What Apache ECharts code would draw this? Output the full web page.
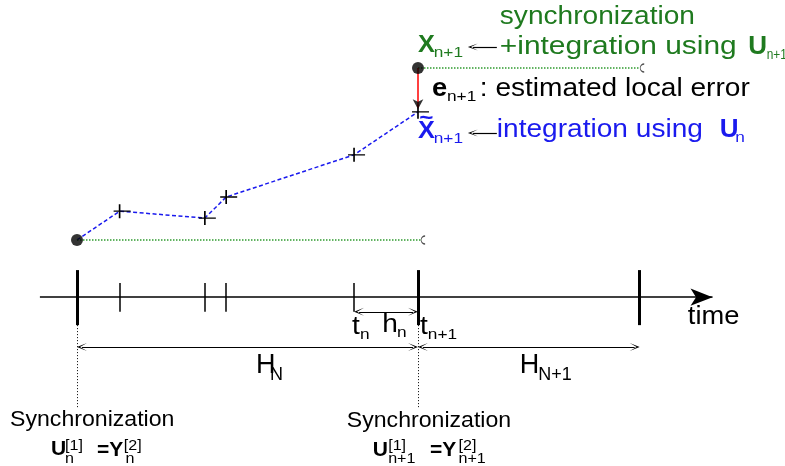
<!DOCTYPE html>
<html><head><meta charset="utf-8">
<script src="https://cdn.jsdelivr.net/npm/echarts@6/dist/echarts.min.js"></script>
<style>html,body{margin:0;padding:0;background:#fff}#c{width:785px;height:466px}</style>
</head><body><div id="c"></div>
<script>
// ---------------- data ----------------
const syncTimes = [0, 8, 13.2];                  // synchronization instants T_N, T_N+1, T_N+2
const stepTimes = [1, 3, 3.5, 6.5];              // internal integration steps
const pathTimes = [0, 1, 3, 3.5, 6.5, 8];        // integration using U_n
const pathValues = [0, 0.67, 0.51, 1.0, 1.98, 2.98];
const syncStateTimes = [0, 8];                   // X_n, X_{n+1}
const syncStateValues = [0, 4.0];
const holdEnds = [8.06, 13.2];                   // end of constant-input horizons

// timeline levels (value units)
const AXIS_Y = -1.33, AXIS_X0 = -0.87, AXIS_X1 = 14.91;
const BIG_TOP = -0.70, BIG_BOT = -1.98, SMALL_TOP = -1.0, SMALL_BOT = -1.67;
const HN_Y = -1.67, H_Y = -2.49, DOT_BOT = -3.9;

const XMIN = -1.806, XMAX = 16.61, YMIN = -5.256, YMAX = 5.581;
const GREEN = '#1f7a1f', BLUE = '#1a1aee', LGREEN = '#2e9a2e';
const FONT = '"Liberation Sans", Arial, sans-serif';

// labels: [x, y, text, font, color, scaleX]
const M = '26px ' + FONT, S = '15px ' + FONT;
const labels = [
  [9.92, 5.19, 'synchronization', M, GREEN, 1.08],
  [8.0, 4.51, 'X', 'bold 23px ' + FONT, GREEN, 1.1],
  [8.37, 4.35, 'n+1', S, GREEN, 1.15],
  [9.92, 4.49, '+integration using', M, GREEN, 1.15],
  [15.75, 4.49, 'U', 'bold 26px ' + FONT, GREEN, 1.0],
  [16.18, 4.30, 'n+1', '14px ' + FONT, GREEN, 0.85],
  [8.33, 3.51, 'e', 'bold 26px ' + FONT, '#000', 1.05],
  [8.68, 3.33, 'n+1', S, '#000', 1.15],
  [9.45, 3.51, ': estimated local error', M, '#000', 1.08],
  [8.03, 2.81, '~', 'bold 22px ' + FONT, BLUE, 1.1],
  [8.0, 2.53, 'X', 'bold 23px ' + FONT, BLUE, 1.1],
  [8.37, 2.35, 'n+1', S, BLUE, 1.15],
  [9.85, 2.56, 'integration using', M, BLUE, 1.08],
  [15.08, 2.56, 'U', 'bold 26px ' + FONT, BLUE, 1.0],
  [15.44, 2.37, 'n', S, BLUE, 1.15],
  [6.45, -2.02, 't', M, '#000', 1.08],
  [6.64, -2.21, 'n', S, '#000', 1.15],
  [7.16, -1.98, 'h', M, '#000', 1.08],
  [7.51, -2.16, 'n', S, '#000', 1.15],
  [8.05, -2.02, 't', M, '#000', 1.08],
  [8.23, -2.21, 'n+1', S, '#000', 1.15],
  [14.33, -1.79, 'time', M, '#000', 1.05],
  [4.2, -2.91, 'H', '27px ' + FONT, '#000', 1.0],
  [4.53, -3.14, 'N', '18px ' + FONT, '#000', 1.0],
  [10.39, -2.93, 'H', '27px ' + FONT, '#000', 1.0],
  [10.82, -3.14, 'N+1', '18px ' + FONT, '#000', 1.0],
  [-1.57, -4.19, 'Synchronization', '22px ' + FONT, '#000', 1.05],
  [6.33, -4.21, 'Synchronization', '22px ' + FONT, '#000', 1.05],
  [-0.61, -4.86, 'U', 'bold 21px ' + FONT, '#000', 1.0],
  [-0.28, -4.80, '[1]', '14px ' + FONT, '#000', 1.15],
  [-0.28, -5.09, 'n', '14px ' + FONT, '#000', 1.15],
  [0.47, -4.88, '=Y', 'bold 21px ' + FONT, '#000', 1.0],
  [1.10, -4.80, '[2]', '14px ' + FONT, '#000', 1.15],
  [1.14, -5.09, 'n', '14px ' + FONT, '#000', 1.15],
  [6.94, -4.88, 'U', 'bold 21px ' + FONT, '#000', 1.0],
  [7.30, -4.80, '[1]', '14px ' + FONT, '#000', 1.15],
  [7.30, -5.09, 'n+1', '14px ' + FONT, '#000', 1.15],
  [8.28, -4.88, '=Y', 'bold 21px ' + FONT, '#000', 1.0],
  [8.95, -4.80, '[2]', '14px ' + FONT, '#000', 1.15],
  [8.95, -5.09, 'n+1', '14px ' + FONT, '#000', 1.15]
];

// ---------------- build ----------------
const pxPerX = 785 / (XMAX - XMIN);
const ins = 5 / pxPerX;      // chevron half-length, so that the tip lands on the target
const CHEV = 'path://M0,10 L5,0 L10,10 L5,3 Z';
const CROSS = 'path://M0,7 L17,7 M6,0 L6,14';
const CURL = 'path://M5,0 A5,5 0 0 0 5,10';

function seg(a, b, style, s1, s2, size) {
  return [
    { coord: a, symbol: s1 || 'none', symbolSize: size || [8, 10], lineStyle: style },
    { coord: b, symbol: s2 || 'none', symbolSize: size || [8, 10] }
  ];
}
const K = (w) => ({ color: '#000', width: w, type: 'solid' });
const segs = [];
// time axis
segs.push(seg([AXIS_X0, AXIS_Y], [AXIS_X1, AXIS_Y], K(1.5), 'none', 'arrow', [13, 22]));
// synchronization ticks
syncTimes.forEach(t => segs.push(seg([t, BIG_TOP], [t, BIG_BOT], K(3))));
// step ticks
stepTimes.forEach(t => segs.push(seg([t, SMALL_TOP], [t, SMALL_BOT], K(1.5))));
// h_n arrow
const tn = stepTimes[stepTimes.length - 1];
segs.push(seg([tn + ins, HN_Y], [syncTimes[1] - ins, HN_Y], K(1.2), CHEV, CHEV));
// H_N and H_N+1 arrows
segs.push(seg([syncTimes[0] + ins, H_Y], [syncTimes[1] - ins, H_Y], K(1.2), CHEV, CHEV));
segs.push(seg([syncTimes[1] + ins, H_Y], [syncTimes[2] - ins, H_Y], K(1.2), CHEV, CHEV));
// dotted verticals
[syncTimes[0], syncTimes[1]].forEach(t => segs.push(seg([t, BIG_BOT], [t, DOT_BOT], { color: '#000', width: 1, type: [1, 2] })));
// constant-hold green dotted lines
syncStateTimes.forEach((t, i) => segs.push(seg([t, syncStateValues[i]], [holdEnds[i], syncStateValues[i]], { color: LGREEN, width: 1.5, type: [1.5, 1.5] })));
// red error line
segs.push(seg([8, syncStateValues[1]], [8, pathValues[pathValues.length - 1] + 0.1], { color: '#ff0000', width: 1.5, type: 'solid' }));
// text arrows
segs.push(seg([9.85, 4.49], [9.17 + ins, 4.49], K(1.2), 'none', CHEV, [7, 10]));
segs.push(seg([9.85, 2.49], [9.17 + ins, 2.49], K(1.2), 'none', CHEV, [7, 10]));

const chart = echarts.init(document.getElementById('c'), null, { renderer: 'canvas' });
const option = {
  animation: false,
  backgroundColor: '#fff',
  grid: { left: 0, right: 0, top: 0, bottom: 0 },
  xAxis: { type: 'value', min: XMIN, max: XMAX, show: false },
  yAxis: { type: 'value', min: YMIN, max: YMAX, show: false },
  series: [
    {
      type: 'scatter', data: [[XMIN, YMIN]], symbolSize: 0, silent: true, z: 1,
      markLine: { silent: true, animation: false, label: { show: false }, emphasis: { disabled: true }, data: segs }
    },
    {
      type: 'line', z: 3, silent: true,
      data: pathTimes.map((t, i) => i === 0 ? { value: [t, pathValues[i]], symbol: 'none' } : [t, pathValues[i]]),
      symbol: CROSS, symbolSize: [17, 14], symbolOffset: [2.5, 0], showAllSymbol: true,
      itemStyle: { color: 'rgba(0,0,0,0)', borderColor: '#000', borderWidth: 1.5 },
      lineStyle: { color: BLUE, width: 1.5, type: [4, 2.5] }
    },
    {
      type: 'scatter', z: 5, silent: true,
      data: syncStateTimes.map((t, i) => [t, syncStateValues[i]]),
      symbolSize: 12, itemStyle: { color: '#000' }
    },
    {
      type: 'scatter', z: 4, silent: true,
      data: holdEnds.map((t, i) => [t + 0.06, syncStateValues[i]]),
      symbol: CURL, symbolSize: [4, 8],
      itemStyle: { color: 'rgba(0,0,0,0)', borderColor: '#222', borderWidth: 1 }
    },
    {
      type: 'scatter', z: 6, silent: true,
      data: [[8, pathValues[pathValues.length - 1] + 0.06]],
      symbol: 'arrow', symbolRotate: 180, symbolSize: [8, 10], itemStyle: { color: '#000' }
    }
  ]
};
chart.setOption(option);

const graphics = labels.map(([x, y, t, f, c, sx]) => {
  const p = chart.convertToPixel({ xAxisIndex: 0, yAxisIndex: 0 }, [x, y]);
  return {
    type: 'text', x: p[0], y: p[1], scaleX: sx, silent: true, z: 10,
    style: { text: t, font: f, fill: c, align: 'left', verticalAlign: 'middle' }
  };
});
chart.setOption({ graphic: graphics });
</script></body></html>
